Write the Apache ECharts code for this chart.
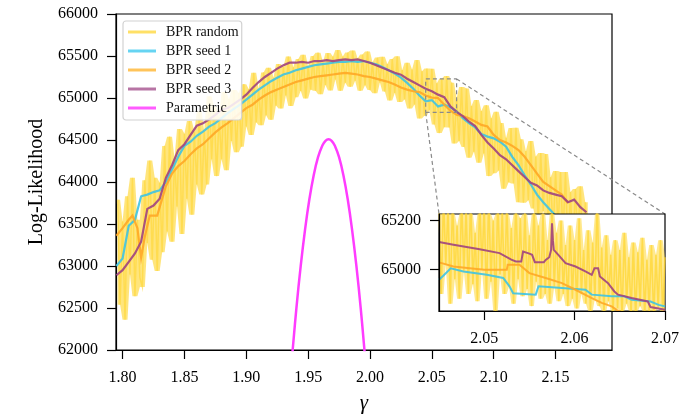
<!DOCTYPE html>
<html><head><meta charset="utf-8">
<script src="https://cdn.jsdelivr.net/npm/echarts@6/dist/echarts.min.js"></script>
<style>html,body{margin:0;padding:0;background:#fff}#c{width:682px;height:419px}</style>
</head><body><div id="c"></div>
<script>
// ---------- data ----------
const xTicks = [1.80, 1.85, 1.90, 1.95, 2.00, 2.05, 2.10, 2.15];
const yTicks = [62000, 62500, 63000, 63500, 64000, 64500, 65000, 65500, 66000];
const insetXTicks = [2.05, 2.06, 2.07];
const insetYTicks = [65000, 65200];
const insetXMin = 2.045, insetXMax = 2.07, insetYMin = 64830, insetYMax = 65227;

const randomStart = 1.796, randomStep = 0.002;
const bprRandom = [
 63790,62540,63530,62360,63830,62900,64050,62640,63550,62860,
 62750,64020,63275,64255,63075,64050,62940,63990,63165,64430,
 63410,64540,63290,64280,63710,64630,63380,64575,63800,64725,
 63610,64600,63970,64840,63850,64600,63970,65020,64270,64895,
 64070,64770,64270,65070,64140,64985,64490,65095,64355,65060,
 64420,65165,64660,65105,64560,65300,64710,65110,64675,65305,
 64795,65360,64740,65240,64910,65405,64875,65370,65030,65495,
 64905,65365,65010,65465,65085,65515,64995,65370,65100,65500,
 65085,65540,65045,65425,65155,65535,65090,65493,65220,65572,
 65085,65493,65181,65541,65133,65565,65205,65469,65085,65517,
 65152,65555,65094,65425,65058,65482,65186,65491,65076,65404,
 64970,65464,65060,65496,64952,65332,64984,65420,64875,65338,
 64924,65452,64756,65318,64790,65350,64856,65348,64684,65176,
 64582,65228,64653,65262,64650,65183,64458,64991,64488,65132,
 64418,65114,64290,64905,64360,64975,64230,64845,64340,64915,
 64070,64759,64104,64835,64138,64701,63920,64525,63996,64643,
 63982,64645,63760,64509,63753,64370,63784,64488,63686,64303,
 63535,64344,63656,64332,63512,64056,63368,64132,63444,64120,
 63336,64118,63190,63882,63179,63916,63303,63950,63022,63759,63146
];

const seedGamma = [
 1.795,1.800,1.805,1.810,1.815,1.820,1.825,1.830,1.835,1.840,
 1.845,1.850,1.855,1.860,1.865,1.870,1.875,1.880,1.885,1.890,
 1.895,1.900,1.905,1.910,1.915,1.920,1.925,1.930,1.935,1.940,
 1.945,1.950,1.955,1.960,1.965,1.970,1.975,1.980,1.985,1.990,
 1.995,2.000,2.005,2.010,2.015,2.020,2.025,2.030,2.035,2.040,
 2.045,2.050,2.055,2.060,2.065,2.070,2.075,2.080,2.085,2.090,
 2.095,2.100,2.105,2.110,2.115,2.120,2.125,2.130,2.135,2.140,
 2.145,2.150,2.155,2.160,2.165,2.170,2.175
];
const seed1 = [
 63000,63090,63480,63550,63830,63850,63880,63900,64000,64150,
 64300,64430,64480,64550,64600,64660,64700,64760,64820,64870,
 64920,64980,65040,65100,65150,65200,65240,65280,65300,65330,
 65350,65370,65390,65400,65410,65420,65430,65430,65440,65430,
 65440,65420,65400,65370,65330,65290,65242,65180,65110,65030,
 64960,64975,64900,64920,64890,64840,64760,64700,64650,64570,
 64540,64520,64480,64420,64300,64200,64080,63970,63850,63760,
 63680,63600,63500,63400,63300,63200,63100
];
const seed3 = [
 62890,62950,63050,63150,63290,63680,63720,63800,64050,64200,
 64380,64450,64560,64670,64700,64745,64800,64860,64880,64930,
 64980,65040,65120,65190,65250,65300,65350,65390,65420,65420,
 65430,65420,65440,65440,65450,65440,65450,65460,65450,65460,
 65440,65420,65390,65360,65330,65300,65278,65230,65190,65150,
 65110,65080,65040,65010,64900,64835,64785,64720,64666,64560,
 64470,64400,64320,64270,64200,64130,64060,63990,63960,63900,
 63870,63850,63830,63760,63790,63700,63640
];
const seed2Gamma = [
 1.795,1.800,1.805,1.808,1.812,1.815,1.818,1.822,1.828,
 1.835,1.840,1.845,1.850,1.855,1.860,1.865,1.870,1.875,1.880,
 1.885,1.890,1.895,1.900,1.905,1.910,1.915,1.920,1.925,1.930,
 1.935,1.940,1.945,1.950,1.955,1.960,1.965,1.970,1.975,1.980,
 1.985,1.990,1.995,2.000,2.005,2.010,2.015,2.020,2.025,2.030,
 2.035,2.040,2.045,2.050,2.055,2.060,2.065,2.070,2.075,2.080,
 2.085,2.090,2.095,2.100,2.105,2.110,2.115,2.120,2.125,2.130,
 2.135,2.140,2.145,2.150,2.155,2.160
];
const seed2 = [
 63360,63450,63550,63600,63450,63100,63350,63600,63600,
 63950,64100,64190,64250,64330,64400,64450,64520,64590,64650,
 64700,64760,64820,64880,64920,64980,65030,65070,65100,65130,
 65160,65190,65210,65230,65250,65260,65270,65280,65290,65300,
 65290,65280,65260,65250,65230,65210,65190,65160,65124,65100,
 65080,65070,65030,65005,65000,64920,64850,64800,64785,64760,
 64720,64680,64660,64560,64500,64470,64430,64380,64300,64200,
 64100,64000,63950,63900,63850,63750
];
const paramGamma = [1.937,1.9405,1.944,1.9475,1.951,1.9545,1.958,1.9615,1.964,1.9665,
                    1.969,1.9715,1.975,1.9785,1.982,1.9855,1.989,1.9925,1.996];
const paramLL = [61917,62496,63001,63434,63794,64081,64295,64435,64491,64510,
                 64491,64435,64295,64081,63794,63434,63001,62496,61917];

// inset (zoomed) data
const insetRandomStart = 2.045, insetRandomStep = 0.00025;
const insetRandom = [
 65280,64900,65300,65020,65260,64860,65300,64960,65180,64880,
 65300,64990,65250,64900,65300,64940,65150,64870,65290,65000,
 65260,64880,65300,64950,65200,64830,65300,64980,65240,64900,
 65280,64930,65170,64860,65300,64960,65210,64890,65250,64920,
 65140,64850,65280,64950,65180,64880,65230,64900,65120,64860,
 65260,64930,65150,64870,65200,64900,65100,64850,65180,64880,
 65120,64840,65210,64900,65080,64860,65160,64830,65110,64880,
 65300,64850,65090,64820,65140,64870,65060,64810,65120,64840,
 65080,64800,65150,64860,65050,64820,65110,64800,65070,64850,
 65130,64810,65040,64830,65100,64800,65060,64840,65120,64810,
 65050
];
const insetSeed1Gamma = [2.045,2.0455,2.0463,2.0477,2.0503,2.0521,2.0528,2.0532,2.0557,2.0560,
                         2.0586,2.0612,2.0619,2.0641,2.0655,2.0663,2.0684,2.0693,2.0700];
const insetSeed1 = [64958,64975,65005,64992,64978,64965,64931,64903,64897,64931,
                    64924,64917,64897,64890,64890,64876,64869,64855,64849];
const insetSeed2Gamma = [2.045,2.0466,2.0484,2.0500,2.0525,2.0526,2.0539,2.0550,2.0568,2.0586,
                         2.0601,2.0619,2.0630,2.0641,2.0648,2.0655];
const insetSeed2 = [65029,65012,65005,64999,64999,65019,65019,64985,64965,64944,
                    64917,64883,64863,64849,64831,64820];
const insetSeed3Gamma = [2.045,2.0466,2.0495,2.0517,2.0530,2.0535,2.0541,2.0543,2.0550,2.0553,
                         2.0556,2.0566,2.0568,2.0572,2.0574,2.0575,2.0576,2.0577,2.0582,2.0590,
                         2.0601,2.0612,2.0619,2.0622,2.0626,2.0628,2.0637,2.0644,2.0648,2.0663,
                         2.0681,2.0684,2.0700];
const insetSeed3 = [65112,65101,65083,65067,65040,65033,65033,65073,65065,65060,
                    65030,65030,65039,65050,65080,65189,65120,65080,65060,65026,
                    65012,64992,64978,65005,65005,64971,64944,64910,64897,64883,
                    64869,64846,64835];

// ---------- helpers ----------
const pairs = (xs, ys) => xs.slice(0, Math.min(xs.length, ys.length)).map((x, i) => [x, ys[i]]);
const evenX = (start, step, n) => Array.from({ length: n }, (_, i) => +(start + i * step).toFixed(5));
// the region swept by the noisy BPR-random trace (min / max of neighbouring samples)
const sweptLow = ys => ys.map((y, i) => Math.min(y, ys[Math.max(0, i - 1)], ys[Math.min(ys.length - 1, i + 1)]));
const sweptHigh = ys => ys.map((y, i) => Math.max(y, ys[Math.max(0, i - 1)], ys[Math.min(ys.length - 1, i + 1)]));

const FONT = '"Liberation Serif", "DejaVu Serif", serif';
const C_RANDOM = '#FFD633', C_FILL = '#FFDA45', C_S1 = '#3EC3E3', C_S2 = '#FFA726', C_S3 = '#A0437F', C_PAR = '#FF3CFF';

const chart = echarts.init(document.getElementById('c'));

function lineSeries(name, data, color, width, opacity, xi, z) {
  return {
    type: 'line', name: name, data: data, xAxisIndex: xi, yAxisIndex: xi,
    showSymbol: false, symbol: 'none', z: z, clip: true, silent: true,
    lineStyle: { color: color, width: width, opacity: opacity, join: 'miter' },
    itemStyle: { color: color }
  };
}
// filled band covering the noisy trace, drawn through the axes of grid xi
function bandSeries(xs, ys, xi, z, yMin, yMax, op) {
  const lo = sweptLow(ys), hi = sweptHigh(ys);
  const clamp = v => Math.max(yMin, Math.min(yMax, v));
  return {
    type: 'custom', xAxisIndex: xi, yAxisIndex: xi, z: z, silent: true,
    data: [[xs[0], lo[0]]],
    renderItem: (params, api) => {
      const top = xs.map((x, i) => api.coord([x, clamp(hi[i])]));
      const bot = xs.map((x, i) => api.coord([x, clamp(lo[i])])).reverse();
      return { type: 'polygon', shape: { points: top.concat(bot) }, style: { fill: C_FILL, opacity: op } };
    }
  };
}

const axisCommon = (ticks, fmt, z, margin) => ({
  type: 'value',
  axisLine: { show: true, lineStyle: { color: '#000', width: 1.2 } },
  axisTick: { show: true, length: 9, customValues: ticks, lineStyle: { color: '#000', width: 1.2 } },
  axisLabel: { customValues: ticks, formatter: fmt, margin: margin, fontFamily: FONT, fontSize: 16, color: '#000' },
  splitLine: { show: false },
  z: z
});

const mainX = evenX(randomStart, randomStep, bprRandom.length);
const insetX = evenX(insetRandomStart, insetRandomStep, insetRandom.length);

const option = {
  animation: false,
  backgroundColor: '#fff',
  grid: [
    { left: 116, top: 14, width: 496, height: 338, show: true, borderColor: '#000', borderWidth: 1.2,
      backgroundColor: 'rgba(0,0,0,0)', z: 0 },
    { left: 439, top: 214, width: 229, height: 97, show: true, borderColor: '#000', borderWidth: 1.2,
      backgroundColor: '#fff', z: 5 }
  ],
  xAxis: [
    Object.assign(axisCommon(xTicks, v => v.toFixed(2), 1, 20), {
      gridIndex: 0, min: 1.7947, max: 2.1956,
      name: 'γ', nameLocation: 'middle', nameGap: 43,
      nameTextStyle: { fontFamily: FONT, fontStyle: 'italic', fontSize: 21, color: '#000' }
    }),
    Object.assign(axisCommon(insetXTicks, v => v.toFixed(2), 7, 20), {
      gridIndex: 1, min: insetXMin, max: insetXMax
    })
  ],
  yAxis: [
    Object.assign(axisCommon(yTicks, v => String(v), 1, 18), {
      gridIndex: 0, min: 62000, max: 66000, interval: 500,
      name: 'Log-Likelihood', nameLocation: 'middle', nameGap: 69, nameRotate: 90,
      nameTextStyle: { fontFamily: FONT, fontSize: 20, color: '#000' }
    }),
    Object.assign(axisCommon(insetYTicks, v => String(v), 7, 18), {
      gridIndex: 1, min: insetYMin, max: insetYMax
    })
  ],
  legend: {
    orient: 'vertical', left: 123, top: 21,
    padding: [4, 3, 5, 5],
    backgroundColor: 'rgba(255,255,255,0.85)', borderColor: '#d2d2d2', borderWidth: 1.2, borderRadius: 3,
    itemWidth: 28, itemHeight: 3, itemGap: 5, icon: 'rect',
    textStyle: { fontFamily: FONT, fontSize: 14, color: '#111', lineHeight: 14, padding: [0, 0, 0, 5] },
    z: 10,
    data: [
      { name: 'BPR random', itemStyle: { color: '#FFE066' } },
      { name: 'BPR seed 1', itemStyle: { color: '#66D4F2' } },
      { name: 'BPR seed 2', itemStyle: { color: '#FFC45A' } },
      { name: 'BPR seed 3', itemStyle: { color: '#B774A4' } },
      { name: 'Parametric', itemStyle: { color: '#FF5CFF' } }
    ]
  },
  series: [
    bandSeries(mainX, bprRandom, 0, 2, 62000, 66000, 0.7),
    lineSeries('BPR random', pairs(mainX, bprRandom), C_RANDOM, 1.5, 0.6, 0, 2),
    lineSeries('BPR seed 1', pairs(seedGamma, seed1), C_S1, 2.2, 0.9, 0, 3),
    lineSeries('BPR seed 2', pairs(seed2Gamma, seed2), C_S2, 2.2, 0.9, 0, 3),
    lineSeries('BPR seed 3', pairs(seedGamma, seed3), C_S3, 2.2, 0.9, 0, 3),
    Object.assign(lineSeries('Parametric', pairs(paramGamma, paramLL), C_PAR, 2.5, 1, 0, 3), { smooth: 0.4 }),
    {
      type: 'line', name: 'zoomBox', xAxisIndex: 0, yAxisIndex: 0, symbol: 'none', silent: true, z: 4,
      data: [[insetXMin, insetYMin], [insetXMax, insetYMin], [insetXMax, insetYMax], [insetXMin, insetYMax], [insetXMin, insetYMin]],
      lineStyle: { color: '#8a8a8a', width: 1.2, type: [4, 3] }
    },
    bandSeries(insetX, insetRandom, 1, 6, insetYMin, insetYMax, 0.6),
    lineSeries('r_in', pairs(insetX, insetRandom), C_RANDOM, 1.6, 0.75, 1, 6),
    lineSeries('s1_in', pairs(insetSeed1Gamma, insetSeed1), C_S1, 2, 0.9, 1, 6),
    lineSeries('s2_in', pairs(insetSeed2Gamma, insetSeed2), C_S2, 2, 0.9, 1, 6),
    lineSeries('s3_in', pairs(insetSeed3Gamma, insetSeed3), C_S3, 2, 0.9, 1, 6)
  ]
};
chart.setOption(option);

// connector lines from the zoom box to the inset, positioned through the axes
const rTR = chart.convertToPixel({ gridIndex: 0 }, [insetXMax, insetYMax]);
const rBL = chart.convertToPixel({ gridIndex: 0 }, [insetXMin, insetYMin]);
const iTR = chart.convertToPixel({ gridIndex: 1 }, [insetXMax, insetYMax]);
const iTL = chart.convertToPixel({ gridIndex: 1 }, [insetXMin, insetYMax]);
const dashStyle = { stroke: '#8a8a8a', lineWidth: 1.2, lineDash: [4, 3] };
chart.setOption({
  graphic: [
    { type: 'line', z: 4, silent: true, shape: { x1: rTR[0], y1: rTR[1], x2: iTR[0], y2: iTR[1] }, style: dashStyle },
    { type: 'line', z: 4, silent: true, shape: { x1: rBL[0], y1: rBL[1], x2: iTL[0], y2: iTL[1] }, style: dashStyle }
  ]
});
</script>
</body></html>
